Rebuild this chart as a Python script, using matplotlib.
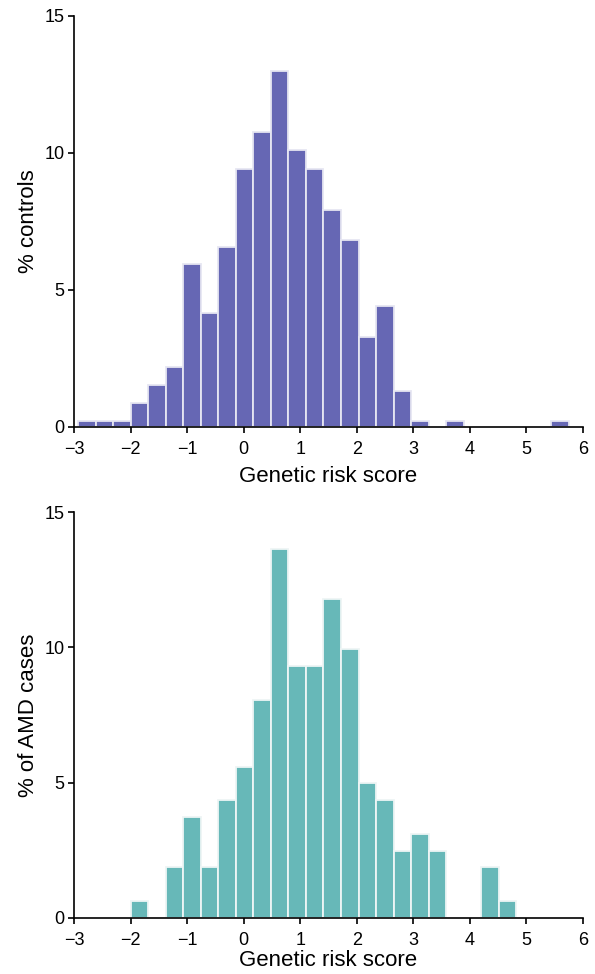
import numpy as np
import matplotlib
matplotlib.use('Agg')
import matplotlib.pyplot as plt

plt.rcParams['font.family'] = ['Liberation Sans', 'DejaVu Sans']

# histogram bins (left edges), width 0.31
bin_left = [-2.93, -2.62, -2.31, -2.00, -1.69, -1.38, -1.07, -0.76, -0.45, -0.14,
            0.17, 0.48, 0.79, 1.10, 1.41, 1.72, 2.03, 2.34, 2.65, 2.96,
            3.27, 3.58, 3.89, 4.20, 4.51, 4.82, 5.13, 5.44]
bin_width = 0.31

# % of controls per bin
controls = [0.2, 0.2, 0.2, 0.87, 1.51, 2.17, 5.92, 4.15, 6.56, 9.42,
            10.76, 12.97, 10.09, 9.42, 7.9, 6.81, 3.28, 4.40, 1.31, 0.2,
            0, 0.2, 0, 0, 0, 0, 0, 0.2]
# % of AMD cases per bin
cases = [0, 0, 0, 0.62, 0, 1.86, 3.73, 1.86, 4.35, 5.59,
         8.07, 13.66, 9.32, 9.32, 11.8, 9.94, 4.97, 4.35, 2.48, 3.11,
         2.48, 0, 0, 1.86, 0.62, 0, 0, 0]

xticks = [-3, -2, -1, 0, 1, 2, 3, 4, 5, 6]
yticks = [0, 5, 10, 15]

fig = plt.figure(figsize=(5.95, 9.74), dpi=100)
ax1 = fig.add_axes([0.1244, 0.5619, 0.8555, 0.422])
ax2 = fig.add_axes([0.1244, 0.0578, 0.8555, 0.4162])

panels = [(ax1, controls, '#6667b4', '#e6e6f2', '% controls', 6),
          (ax2, cases, '#67b8b8', '#eef5f5', '% of AMD cases', 1)]

for ax, vals, col, ecol, ylab, xpad in panels:
    x = np.array(bin_left); h = np.array(vals)
    m = h > 0
    ax.bar(x[m], h[m], width=bin_width, align='edge', color=col,
           edgecolor=ecol, linewidth=1.3)
    ax.set_xlim(-3, 6)
    ax.set_ylim(0, 15)
    ax.set_xticks(xticks)
    ax.set_yticks(yticks)
    for s in ['top', 'right']:
        ax.spines[s].set_visible(False)
    for s in ['left', 'bottom']:
        ax.spines[s].set_linewidth(1.2)
    ax.tick_params(width=1.2, length=4, labelsize=13)
    ax.tick_params(axis='x', pad=6)
    ax.tick_params(axis='y', pad=3)
    ax.set_xlabel('Genetic risk score', fontsize=16, labelpad=xpad)
    ax.set_ylabel(ylab, fontsize=16, labelpad=4)

fig.savefig('out.png', dpi=100)
